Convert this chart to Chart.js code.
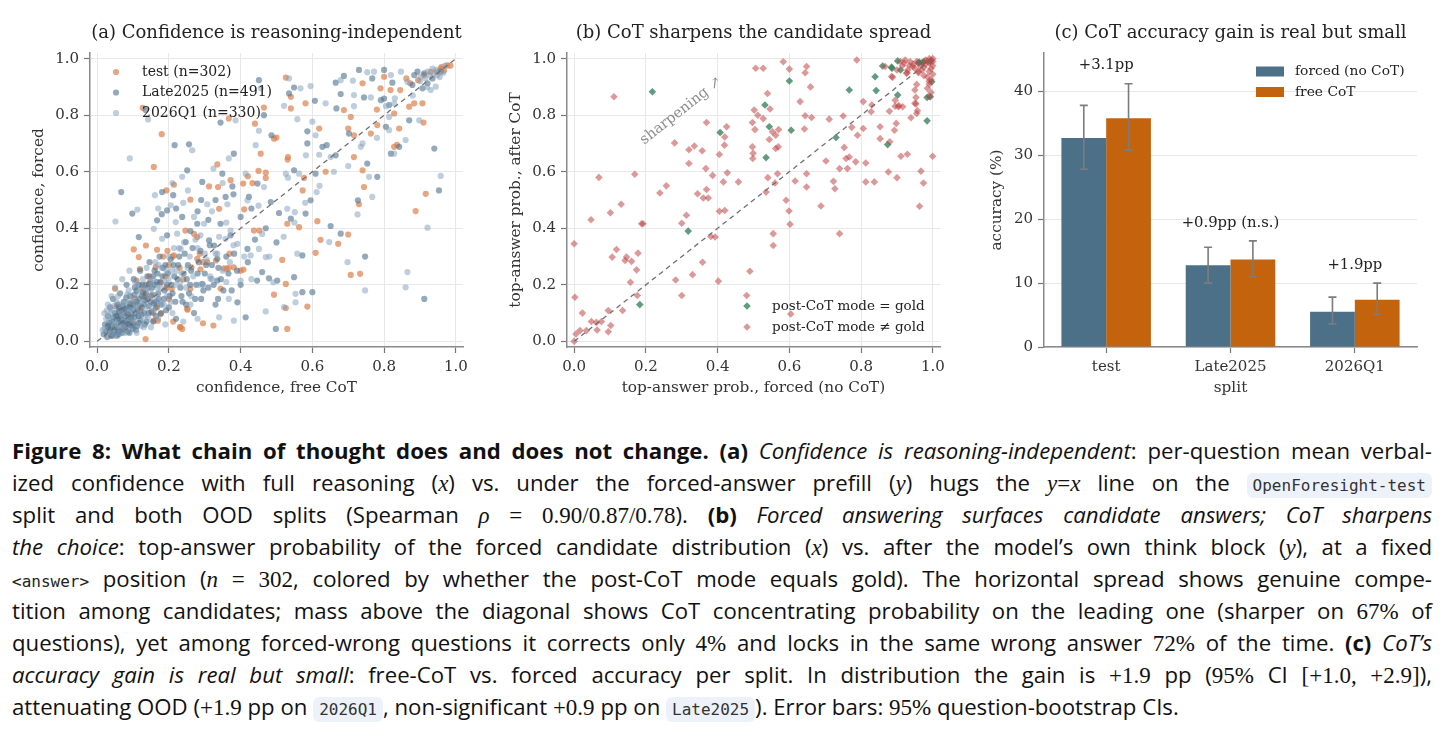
<!DOCTYPE html>
<html>
<head>
<meta charset="utf-8">
<script src="https://cdn.jsdelivr.net/npm/chart.js@4.4.1/dist/chart.umd.min.js"></script>
<style>
  body { margin: 0; background: #fff; width: 1451px; height: 747px; overflow: hidden; position: relative; }
  canvas { position: absolute; top: 0; }
  #caption { position: absolute; left: 12px; top: 435px; width: 1420px; font-family: 'Open Sans', sans-serif; font-size: 22.2px; color: #111; }
  .ln { height: 32px; line-height: 32px; white-space: nowrap; }
  .m { font-family: 'Liberation Serif', serif; font-style: italic; font-size: 23px; }
  .r { font-family: 'Liberation Serif', serif; font-size: 23px; }
  .code { font-family: 'DejaVu Sans Mono', monospace; font-size: 16px; color: #333; background: #edf2fa; border-radius: 6px; padding: 3px 6px; }
  .tt { font-family: 'DejaVu Sans Mono', monospace; font-size: 16px; color: #222; }
</style>
</head>
<body>
<canvas id="chartA" width="490" height="410" style="left:0px"></canvas>
<canvas id="chartB" width="470" height="410" style="left:490px"></canvas>
<canvas id="chartC" width="491" height="410" style="left:960px"></canvas>

<div id="caption">
<div class="ln"><span class="w"><b>Figure 8: What chain of thought does and does not change.</b> <b>(a)</b> <i>Confidence is reasoning-independent</i>: per-question mean verbal-</span></div>
<div class="ln"><span class="w">ized confidence with full reasoning (<span class="m">x</span>) vs. under the forced-answer prefill (<span class="m">y</span>) hugs the <span class="m">y</span><span class="r">=</span><span class="m">x</span> line on the <span class="code">OpenForesight-test</span></span></div>
<div class="ln"><span class="w">split and both OOD splits (Spearman <span class="m">ρ</span> <span class="r">=</span> <span class="r">0.90/0.87/0.78</span>). <b>(b)</b> <i>Forced answering surfaces candidate answers; CoT sharpens</i></span></div>
<div class="ln"><span class="w"><i>the choice</i>: top-answer probability of the forced candidate distribution (<span class="m">x</span>) vs. after the model’s own think block (<span class="m">y</span>), at a fixed</span></div>
<div class="ln"><span class="w"><span class="tt">&lt;answer&gt;</span> position (<span class="m">n</span> <span class="r">=</span> <span class="r">302</span>, colored by whether the post-CoT mode equals gold). The horizontal spread shows genuine compe-</span></div>
<div class="ln"><span class="w">tition among candidates; mass above the diagonal shows CoT concentrating probability on the leading one (sharper on <span class="r">67%</span> of</span></div>
<div class="ln"><span class="w">questions), yet among forced-wrong questions it corrects only <span class="r">4%</span> and locks in the same wrong answer <span class="r">72%</span> of the time. <b>(c)</b> <i>CoT’s</i></span></div>
<div class="ln"><span class="w"><i>accuracy gain is real but small</i>: free-CoT vs. forced accuracy per split. In distribution the gain is <span class="r">+1.9</span> pp (<span class="r">95%</span> CI <span class="r">[+1.0, +2.9]</span>),</span></div>
<div class="ln last"><span class="w">attenuating OOD (<span class="r">+1.9</span> pp on <span class="code">2026Q1</span>, non-significant <span class="r">+0.9</span> pp on <span class="code">Late2025</span>). Error bars: <span class="r">95%</span> question-bootstrap CIs.</span></div>
</div>

<script>
// ---- data: (a) confidence, free CoT (x) vs forced (y)
const testPts = [
  [0.526,0.933],[0.54,0.865],[0.54,0.824],[0.581,0.842],[0.74,0.913],[0.688,0.818],[0.707,0.794],[0.70,0.753],
  [0.716,0.729],[0.763,0.735],[0.781,0.765],[0.78,0.82],[0.828,0.806],[0.842,0.753],[0.828,0.688],[0.836,0.695],
  [0.80,0.936],[0.79,0.895],[0.818,0.889],[0.845,0.889],[0.87,0.83],[0.884,0.842],[0.907,0.842],[0.91,0.774],
  [0.916,0.522],[0.888,0.461],[0.873,0.913],[0.911,0.942],[0.93,0.953],[0.958,0.965],[0.976,0.976],[0.967,0.958],
  [0.948,0.953],[0.862,0.93],[0.895,0.924],[0.985,0.975],[0.96,0.97],[0.619,0.753],[0.50,0.721],[0.493,0.717],
  [0.456,0.664],[0.532,0.652],[0.531,0.643],[0.45,0.603],[0.47,0.597],[0.47,0.578],[0.42,0.584],[0.407,0.558],
  [0.433,0.56],[0.372,0.57],[0.335,0.626],[0.312,0.548],[0.337,0.546],[0.26,0.501],[0.214,0.554],[0.193,0.534],
  [0.158,0.617],[0.18,0.733],[0.127,0.826],[0.367,0.788],[0.465,0.827],[0.44,0.77],[0.34,0.469],[0.41,0.467],
  [0.437,0.392],[0.452,0.392],[0.53,0.416],[0.563,0.404],[0.614,0.425],[0.623,0.359],[0.609,0.313],[0.672,0.345],
  [0.70,0.378],[0.637,0.60],[0.577,0.578],[0.573,0.534],[0.74,0.605],[0.744,0.546],[0.73,0.485],[0.716,0.652],
  [0.707,0.235],[0.733,0.239],[0.586,0.123],[0.526,0.118],[0.53,0.044],[0.526,0.203],[0.516,0.288],[0.493,0.165],
  [0.381,0.262],[0.40,0.25],[0.367,0.26],[0.353,0.258],[0.344,0.187],[0.307,0.28],[0.288,0.255],[0.324,0.056],
  [0.295,0.064],[0.237,0.044],[0.232,0.05],[0.212,0.07],[0.251,0.115],[0.26,0.186],[0.263,0.262],[0.24,0.219],
  [0.214,0.304],[0.246,0.392],[0.279,0.369],[0.279,0.292],[0.295,0.28],[0.184,0.30],[0.163,0.262],[0.167,0.324],
  [0.144,0.203],[0.136,0.339],[0.102,0.325],[0.116,0.298],[0.119,0.256],[0.13,0.168],[0.095,0.132],[0.084,0.097],
  [0.05,0.186],[0.054,0.124],[0.135,0.008],[0.102,0.064],[0.084,0.062],[0.158,0.073],[0.177,0.097],[0.20,0.15],
  [0.193,0.19],[0.11,0.215],[0.167,0.12],[0.06,0.09],[0.12,0.11],[0.07,0.04],[0.15,0.16],[0.23,0.26],
  [0.19,0.23],[0.04,0.02],[0.03,0.05],[0.145,0.23],[0.27,0.38],[0.2,0.27],[0.196,0.32],[0.21,0.30],
  [0.286,0.31],[0.331,0.286],[0.361,0.257],[0.369,0.31],[0.408,0.254],[0.177,0.208],[0.208,0.186],[0.252,0.112],
  [0.231,0.05],[0.133,0.159],[0.092,0.059],[0.169,0.073],[0.07,0.11],[0.105,0.15],[0.125,0.19],[0.155,0.1]
];
const latePts = [
  [0.018,0.025],[0.022,0.06],[0.028,0.015],[0.03,0.09],[0.033,0.04],[0.036,0.12],[0.04,0.02],[0.041,0.07],
  [0.044,0.15],[0.047,0.035],[0.05,0.1],[0.052,0.055],[0.055,0.02],[0.057,0.13],[0.06,0.08],[0.062,0.04],
  [0.064,0.17],[0.067,0.11],[0.07,0.03],[0.072,0.065],[0.074,0.14],[0.077,0.09],[0.08,0.05],[0.082,0.2],
  [0.084,0.12],[0.087,0.075],[0.09,0.03],[0.092,0.16],[0.095,0.1],[0.097,0.055],[0.1,0.13],[0.102,0.22],
  [0.105,0.085],[0.108,0.04],[0.11,0.18],[0.113,0.11],[0.116,0.065],[0.118,0.15],[0.12,0.25],[0.123,0.095],
  [0.126,0.2],[0.13,0.13],[0.133,0.06],[0.136,0.17],[0.14,0.23],[0.143,0.1],[0.146,0.28],[0.15,0.14],
  [0.153,0.19],[0.156,0.07],[0.16,0.25],[0.163,0.12],[0.166,0.21],[0.17,0.17],[0.174,0.3],[0.178,0.1],
  [0.182,0.23],[0.186,0.15],[0.19,0.27],[0.195,0.2],[0.2,0.12],[0.205,0.29],[0.21,0.17],[0.215,0.23],
  [0.22,0.08],[0.226,0.27],[0.232,0.19],[0.238,0.14],[0.244,0.31],[0.25,0.22],[0.256,0.17],[0.262,0.25],
  [0.27,0.1],[0.276,0.2],[0.283,0.28],[0.29,0.15],[0.3,0.24],[0.31,0.19],[0.32,0.27],[0.33,0.13],
  [0.345,0.22],[0.36,0.3],[0.375,0.18],[0.39,0.25],[0.06,0.025],[0.045,0.085],[0.085,0.035],[0.1,0.06],
  [0.035,0.065],[0.075,0.115],[0.11,0.14],[0.065,0.09],[0.09,0.12],[0.055,0.075],[0.125,0.16],[0.095,0.08],
  [0.08,0.1],[0.14,0.15],[0.115,0.09],[0.06,0.12],[0.105,0.19],[0.135,0.2],[0.165,0.14],[0.155,0.23],
  [0.025,0.035],[0.03,0.055],[0.038,0.045],[0.043,0.025],[0.048,0.05],[0.053,0.09],[0.058,0.035],[0.061,0.105],
  [0.066,0.06],[0.069,0.075],[0.071,0.125],[0.076,0.045],[0.079,0.07],[0.081,0.155],[0.086,0.095],[0.089,0.06],
  [0.091,0.135],[0.094,0.085],[0.099,0.045],[0.101,0.115],[0.104,0.165],[0.107,0.1],[0.111,0.055],[0.114,0.13],
  [0.117,0.2],[0.121,0.075],[0.124,0.12],[0.127,0.175],[0.131,0.1],[0.134,0.145],[0.138,0.07],[0.141,0.19],
  [0.144,0.125],[0.148,0.21],[0.151,0.105],[0.154,0.165],[0.158,0.135],[0.161,0.2],[0.164,0.09],[0.168,0.24],
  [0.171,0.15],[0.176,0.21],[0.179,0.13],[0.184,0.26],[0.188,0.18],[0.192,0.11],[0.197,0.24],[0.202,0.16],
  [0.207,0.2],[0.213,0.27],[0.218,0.14],[0.224,0.22],[0.229,0.3],[0.235,0.16],[0.241,0.24],[0.248,0.13],
  [0.253,0.27],[0.259,0.2],[0.266,0.33],[0.273,0.15],[0.28,0.24],[0.288,0.32],[0.296,0.18],[0.304,0.27],
  [0.314,0.34],[0.325,0.2],[0.338,0.26],[0.352,0.18],[0.366,0.24],[0.382,0.31],[0.4,0.2],[0.42,0.28],
  [0.44,0.36],[0.47,0.4],[0.5,0.35],[0.28,0.46],[0.31,0.43],[0.33,0.5],[0.4,0.44],[0.43,0.47],
  [0.26,0.39],[0.22,0.47],[0.18,0.45],[0.29,0.5],[0.38,0.52],
  [0.451,0.924],[0.549,0.898],[0.535,0.877],[0.607,0.851],[0.665,0.915],[0.688,0.939],[0.73,0.96],[0.767,0.93],
  [0.80,0.96],[0.823,0.915],[0.744,0.863],[0.667,0.824],[0.679,0.875],[0.791,0.853],[0.814,0.836],[0.80,0.859],
  [0.805,0.759],[0.819,0.664],[0.842,0.688],[0.87,0.782],[0.94,0.682],[0.953,0.534],[0.912,0.15],[0.893,0.954],
  [0.912,0.948],[0.935,0.93],[0.921,0.913],[0.907,0.895],[0.884,0.942],[0.879,0.907],[0.958,0.954],[0.465,0.80],
  [0.344,0.774],[0.486,0.729],[0.381,0.664],[0.256,0.697],[0.216,0.694],[0.135,0.818],[0.067,0.528],[0.098,0.452],
  [0.116,0.369],[0.181,0.528],[0.212,0.517],[0.251,0.605],[0.293,0.564],[0.349,0.593],[0.358,0.511],[0.377,0.548],
  [0.423,0.511],[0.447,0.558],[0.484,0.493],[0.549,0.605],[0.609,0.593],[0.595,0.499],[0.507,0.454],[0.54,0.434],
  [0.581,0.452],[0.586,0.70],[0.628,0.688],[0.64,0.694],[0.665,0.658],[0.586,0.743],[0.702,0.735],[0.753,0.629],
  [0.781,0.582],[0.727,0.499],[0.651,0.408],[0.679,0.381],[0.747,0.30],[0.572,0.304],[0.549,0.227],[0.572,0.174],
  [0.60,0.174],[0.498,0.044],[0.502,0.215],[0.479,0.223],[0.419,0.327],[0.46,0.245],[0.446,0.215],[0.414,0.085],
  [0.391,0.138],[0.337,0.15],[0.335,0.215],[0.293,0.203],[0.335,0.292],[0.372,0.375],[0.326,0.339],[0.312,0.357],
  [0.344,0.416],[0.279,0.416],[0.247,0.351],[0.195,0.375],[0.195,0.463],[0.237,0.44],[0.167,0.428]
];
const q1Pts = [
  [0.015,0.04],[0.025,0.08],[0.038,0.03],[0.042,0.11],[0.05,0.06],[0.058,0.16],[0.063,0.03],[0.068,0.1],
  [0.073,0.05],[0.078,0.14],[0.083,0.08],[0.088,0.18],[0.093,0.045],[0.098,0.11],[0.103,0.15],[0.108,0.06],
  [0.112,0.2],[0.118,0.1],[0.124,0.14],[0.128,0.22],[0.134,0.09],[0.138,0.26],[0.145,0.16],[0.152,0.2],
  [0.158,0.11],[0.162,0.28],[0.168,0.19],[0.175,0.14],[0.18,0.26],[0.188,0.21],[0.195,0.16],[0.2,0.3],
  [0.208,0.25],[0.218,0.2],[0.228,0.33],[0.236,0.24],[0.248,0.19],[0.258,0.3],[0.268,0.23],[0.28,0.33],
  [0.295,0.2],[0.305,0.29],[0.315,0.23],[0.335,0.31],[0.35,0.25],[0.37,0.28],[0.03,0.13],[0.05,0.19],
  [0.02,0.1],[0.07,0.22],[0.09,0.25],[0.04,0.16],[0.11,0.03],[0.13,0.05],[0.15,0.05],[0.17,0.08],
  [0.19,0.06],[0.21,0.1],[0.24,0.07],[0.26,0.13],[0.28,0.08],
  [0.021,0.045],[0.027,0.11],[0.034,0.075],[0.039,0.1],[0.046,0.125],[0.049,0.02],[0.054,0.14],[0.059,0.055],
  [0.066,0.13],[0.071,0.09],[0.079,0.03],[0.084,0.165],[0.087,0.105],[0.096,0.14],[0.099,0.075],[0.106,0.21],
  [0.109,0.125],[0.119,0.17],[0.122,0.055],[0.129,0.19],[0.137,0.12],[0.142,0.085],[0.149,0.185],[0.157,0.22],
  [0.163,0.15],[0.171,0.27],[0.177,0.19],[0.186,0.13],[0.193,0.25],[0.199,0.22],[0.206,0.14],[0.214,0.33],
  [0.222,0.25],[0.231,0.21],[0.242,0.35],[0.252,0.26],[0.262,0.16],[0.274,0.36],[0.285,0.2],[0.3,0.31],
  [0.32,0.22],[0.34,0.37],[0.36,0.21],[0.38,0.34],[0.41,0.3],[0.43,0.22],[0.46,0.38],[0.48,0.3],
  [0.52,0.37],[0.55,0.42],[0.58,0.49],[0.62,0.55],[0.66,0.6],[0.7,0.62],[0.74,0.7],[0.78,0.72],
  [0.83,0.86],[0.88,0.87],[0.9,0.92],[0.92,0.9],[0.945,0.96],[0.955,0.935],[0.965,0.95],[0.97,0.975],
  [0.935,0.965],[0.915,0.93],[0.27,0.44],[0.32,0.46],[0.36,0.42],[0.45,0.48],[0.21,0.56],[0.17,0.47],
  [0.24,0.49],[0.35,0.56],
  [0.456,0.895],[0.535,0.93],[0.567,0.895],[0.521,0.833],[0.637,0.842],[0.679,0.924],[0.713,0.922],[0.753,0.952],
  [0.772,0.954],[0.819,0.942],[0.847,0.954],[0.763,0.863],[0.716,0.832],[0.716,0.871],[0.805,0.832],[0.828,0.842],
  [0.814,0.794],[0.814,0.747],[0.828,0.664],[0.86,0.712],[0.898,0.782],[0.958,0.585],[0.921,0.402],[0.865,0.245],
  [0.86,0.191],[0.902,0.936],[0.926,0.942],[0.94,0.948],[0.944,0.901],[0.93,0.889],[0.865,0.918],[0.949,0.942],
  [0.921,0.954],[0.595,0.903],[0.386,0.782],[0.451,0.745],[0.442,0.694],[0.367,0.647],[0.265,0.676],[0.142,0.785],
  [0.091,0.647],[0.051,0.424],[0.112,0.466],[0.161,0.517],[0.205,0.481],[0.237,0.582],[0.253,0.534],[0.324,0.611],
  [0.307,0.485],[0.363,0.485],[0.419,0.499],[0.414,0.593],[0.465,0.546],[0.532,0.579],[0.563,0.593],[0.612,0.528],
  [0.526,0.593],[0.53,0.469],[0.551,0.457],[0.582,0.658],[0.609,0.729],[0.619,0.66],[0.651,0.652],[0.60,0.777],
  [0.558,0.786],[0.735,0.688],[0.758,0.582],[0.767,0.511],[0.726,0.449],[0.647,0.351],[0.698,0.28],[0.747,0.18],
  [0.558,0.31],[0.553,0.168],[0.553,0.138],[0.521,0.121],[0.47,0.106],[0.491,0.209],[0.451,0.327],[0.428,0.304],
  [0.47,0.298],[0.40,0.215],[0.381,0.073],[0.367,0.15],[0.34,0.085],[0.316,0.221],[0.33,0.31],[0.372,0.392],
  [0.391,0.345],[0.358,0.363],[0.298,0.416],[0.288,0.375],[0.233,0.327],[0.223,0.381],[0.181,0.363],[0.219,0.422],
  [0.158,0.398]
];

// ---- data: (b) top-answer prob., forced (x) vs after CoT (y)
const goldPts = [
  [0.218,0.883],[0.407,0.739],[0.318,0.39],[0.183,0.13],[0.532,0.836],[0.544,0.759],[0.535,0.65],[0.60,0.921],
  [0.605,0.747],[0.767,0.889],[0.73,0.721],[0.839,0.936],[0.842,0.887],[0.86,0.974],[0.886,0.966],[0.902,0.992],
  [0.902,0.871],[0.874,0.696],[0.91,0.96],[0.96,0.985],[0.97,0.985],[0.984,0.863],[0.984,0.78],[0.997,0.918],
  [0.993,0.865],[0.993,0.99],[0.962,0.988],[0.885,0.97],[0.975,0.99]
];
const wrongPts = [
  [0.0,0.345],[0.002,0.156],[0.0,0.0],[0.005,0.026],[0.016,0.038],[0.023,0.10],[0.034,0.038],[0.048,0.07],
  [0.064,0.04],[0.062,0.067],[0.076,0.07],[0.095,0.109],[0.095,0.034],[0.102,0.056],[0.047,0.43],[0.069,0.58],
  [0.101,0.455],[0.111,0.865],[0.106,0.298],[0.118,0.325],[0.131,0.485],[0.135,0.109],[0.142,0.286],[0.146,0.298],
  [0.16,0.283],[0.157,0.209],[0.169,0.591],[0.174,0.253],[0.178,0.312],[0.176,0.162],[0.188,0.416],[0.192,0.416],
  [0.239,0.525],[0.257,0.55],[0.28,0.702],[0.283,0.217],[0.30,0.162],[0.30,0.418],[0.313,0.446],[0.32,0.678],
  [0.32,0.629],[0.33,0.236],[0.335,0.691],[0.344,0.522],[0.357,0.674],[0.36,0.507],[0.358,0.28],[0.367,0.611],
  [0.369,0.537],[0.369,0.774],[0.374,0.507],[0.381,0.371],[0.393,0.369],[0.386,0.587],[0.405,0.46],[0.405,0.661],
  [0.402,0.213],[0.419,0.694],[0.42,0.723],[0.42,0.463],[0.416,0.564],[0.425,0.759],[0.427,0.596],[0.458,0.564],
  [0.481,0.162],[0.49,0.248],[0.497,0.774],[0.497,0.688],[0.498,0.647],[0.499,0.665],[0.504,0.749],[0.502,0.818],
  [0.506,0.966],[0.512,0.80],[0.527,0.966],[0.527,0.788],[0.535,0.528],[0.54,0.579],[0.539,0.877],[0.546,0.822],
  [0.544,0.714],[0.553,0.741],[0.555,0.381],[0.555,0.339],[0.56,0.56],[0.562,0.729],[0.562,0.682],[0.567,0.593],
  [0.569,0.688],[0.57,0.749],[0.583,0.989],[0.591,0.499],[0.599,0.461],[0.602,0.414],[0.60,0.963],[0.616,0.567],
  [0.63,0.848],[0.642,0.751],[0.644,0.798],[0.644,0.95],[0.648,0.972],[0.648,0.593],[0.648,0.546],[0.659,0.90],
  [0.662,0.792],[0.688,0.479],[0.702,0.638],[0.711,0.786],[0.723,0.566],[0.727,0.54],[0.74,0.381],[0.74,0.611],
  [0.75,0.797],[0.753,0.686],[0.758,0.647],[0.762,0.611],[0.767,0.652],[0.774,0.757],[0.785,0.635],[0.788,0.995],
  [0.79,0.729],[0.806,0.753],[0.806,0.848],[0.813,0.631],[0.813,0.564],[0.828,0.812],[0.83,0.836],[0.837,0.564],
  [0.853,0.759],[0.853,0.717],[0.867,0.972],[0.876,0.599],[0.879,0.814],[0.88,0.706],[0.888,0.934],[0.893,0.747],
  [0.895,0.853],[0.895,0.832],[0.898,0.771],[0.90,0.579],[0.90,0.96],[0.904,0.83],[0.911,0.655],[0.916,0.83],
  [0.923,0.995],[0.927,0.948],[0.929,0.662],[0.937,0.989],[0.939,0.791],[0.944,0.972],[0.95,0.889],[0.95,0.842],
  [0.953,0.863],[0.955,0.806],[0.96,0.95],[0.963,0.478],[0.967,0.602],[0.974,0.56],[0.9995,0.655],[0.604,0.097],
  [0.955,0.909],[0.99,0.92],[0.99,0.866],[0.905,0.834],[0.953,0.84],[0.957,0.816],[0.928,0.95],[0.885,0.937],
  [1.0,1.0],[0.995,0.995],[0.99,0.985],[0.985,0.99],[1.0,0.975],[0.995,0.965],[0.98,0.98],[0.975,0.97],
  [0.99,0.955],[1.0,0.945],[0.985,0.935],[0.995,0.925],[0.97,0.96],[0.965,0.975],[0.955,0.99],[0.945,0.98],
  [0.99,1.0],[1.0,0.99],[0.98,0.995],[0.96,0.955],[0.99,0.91],[0.985,0.895],[0.995,0.88],[0.975,0.94],
  [0.95,0.965],[0.935,0.975],[0.92,0.985],[0.91,0.99],[0.93,0.96],[0.915,0.975]
];
const diagPts = [[0, 0], [1, 1]];

// ---- data: (c) accuracy per split (%)
const splits = ['test', 'Late2025', '2026Q1'];
const forcedAcc = [32.7, 12.8, 5.5];
const freeAcc = [35.8, 13.7, 7.4];
const forcedLo = [27.8, 10.0, 3.6];
const forcedHi = [37.8, 15.6, 7.8];
const freeLo = [30.8, 11.0, 5.1];
const freeHi = [41.2, 16.6, 10.0];
const gainLabels = ['+3.1pp', '+0.9pp (n.s.)', '+1.9pp'];

// ---- ticks
const unitTicks = [0, 0.2, 0.4, 0.6, 0.8, 1.0];
const unitTickLabels = ['0.0', '0.2', '0.4', '0.6', '0.8', '1.0'];
const accTicks = [0, 10, 20, 30, 40];
const accTickLabels = ['0', '10', '20', '30', '40'];

const SERIF = "'DejaVu Serif', serif";
const tickFont = { family: SERIF, size: 15 };
const axisFont = { family: SERIF, size: 15.3, lineHeight: 1 };
const SPINE = '#8a8a8a';
const GRID = '#e8e8e8';

function xy(arr) { return arr.map(p => ({ x: p[0], y: p[1] })); }

function axis(opts) {
  // opts: title, min, max, ticks, labels, size, horizontal, titlePad
  return {
    type: 'linear', min: opts.min, max: opts.max,
    afterBuildTicks: s => { s.ticks = opts.ticks.map(v => ({ value: v })); },
    afterFit: s => { if (opts.horizontal) s.height = opts.size; else s.width = opts.size; },
    ticks: {
      font: tickFont, color: '#333', padding: 5, autoSkip: false, maxRotation: 0,
      callback: v => opts.labels[opts.ticks.indexOf(v)]
    },
    grid: { color: GRID, lineWidth: 1, tickColor: '#777', tickLength: 6, tickWidth: 1.2 },
    border: { display: true, color: SPINE, width: 1.5 },
    title: {
      display: true, text: opts.title, font: axisFont, color: '#333',
      padding: opts.horizontal ? { top: 0, bottom: opts.titlePad } : { top: opts.titlePad, bottom: 0 }
    }
  };
}

// titles, legends and free text inside each panel
const decorPlugin = {
  id: 'decor',
  afterDraw(chart, args, o) {
    const ctx = chart.ctx, a = chart.chartArea;
    ctx.save();
    ctx.fillStyle = '#222';
    ctx.font = '18px ' + SERIF;
    ctx.textAlign = 'center';
    ctx.textBaseline = 'middle';
    ctx.fillText(o.title, (a.left + a.right) / 2, a.top - 20);

    if (o.legend) {
      const L = o.legend;
      ctx.font = L.size + 'px ' + SERIF;
      ctx.textAlign = 'left';
      const items = chart.data.datasets.filter(d => d.label);
      items.forEach((d, i) => {
        const y = (L.fromBottom ? a.bottom - L.y : a.top + L.y) + i * L.dy;
        ctx.fillStyle = d.backgroundColor;
        if (L.box) {
          ctx.fillRect(a.left + L.x - 14, y - 5, 28, 10);
        } else {
          Chart.helpers.drawPoint(ctx, { pointStyle: d.pointStyle || 'circle', radius: d.pointRadius, rotation: 0, borderWidth: 0 }, a.left + L.x, y);
        }
        ctx.fillStyle = '#222';
        ctx.fillText(d.label, a.left + L.x + L.textDx, y);
      });
    }

    if (o.note) {
      const xs = chart.scales.x, ys = chart.scales.y;
      const ang = Math.atan2(ys.getPixelForValue(1) - ys.getPixelForValue(0), xs.getPixelForValue(1) - xs.getPixelForValue(0));
      ctx.translate(xs.getPixelForValue(o.note.x), ys.getPixelForValue(o.note.y));
      ctx.rotate(ang);
      ctx.fillStyle = '#8c8c8c';
      ctx.font = '14.5px ' + SERIF;
      ctx.textAlign = 'center';
      ctx.fillText(o.note.text, 0, 0);
    }
    ctx.restore();
  }
};

// ---- (a)
new Chart(document.getElementById('chartA'), {
  type: 'scatter',
  data: {
    datasets: [
      { data: xy(diagPts), showLine: true, borderColor: '#6f6f6f', borderDash: [5, 4], borderWidth: 1.3, pointRadius: 0, order: 0 },
      { label: 'test (n=302)', data: xy(testPts), backgroundColor: 'rgba(221,132,82,0.72)', pointRadius: 3.1, borderWidth: 0, order: 3 },
      { label: 'Late2025 (n=491)', data: xy(latePts), backgroundColor: 'rgba(76,114,142,0.6)', pointRadius: 3.1, borderWidth: 0, order: 2 },
      { label: '2026Q1 (n=330)', data: xy(q1Pts), backgroundColor: 'rgba(128,158,186,0.5)', pointRadius: 3.1, borderWidth: 0, order: 1 }
    ]
  },
  options: {
    responsive: false, animation: false, events: [],
    layout: { padding: { left: 0, top: 53, right: 27, bottom: 0 } },
    scales: {
      x: axis({ title: 'confidence, free CoT', min: -0.02, max: 1.02, ticks: unitTicks, labels: unitTickLabels, size: 63, horizontal: true, titlePad: 14.5 }),
      y: axis({ title: 'confidence, forced', min: -0.02, max: 1.02, ticks: unitTicks, labels: unitTickLabels, size: 90, horizontal: false, titlePad: 31.5 })
    },
    plugins: {
      legend: { display: false }, tooltip: { enabled: false },
      decor: { title: '(a) Confidence is reasoning-independent', legend: { x: 26, y: 19, dy: 20.5, textDx: 26, size: 14 } }
    }
  },
  plugins: [decorPlugin]
});

// ---- (b)
new Chart(document.getElementById('chartB'), {
  type: 'scatter',
  data: {
    datasets: [
      { data: xy(diagPts), showLine: true, borderColor: '#6f6f6f', borderDash: [5, 4], borderWidth: 1.3, pointRadius: 0, order: 0 },
      { label: 'post-CoT mode = gold', data: xy(goldPts), backgroundColor: 'rgba(60,130,95,0.8)', pointStyle: 'rectRot', pointRadius: 3.8, borderWidth: 0, order: 2 },
      { label: 'post-CoT mode ≠ gold', data: xy(wrongPts), backgroundColor: 'rgba(192,70,70,0.55)', pointStyle: 'rectRot', pointRadius: 3.8, borderWidth: 0, order: 1 }
    ]
  },
  options: {
    responsive: false, animation: false, events: [],
    layout: { padding: { left: 0, top: 53, right: 20, bottom: 0 } },
    scales: {
      x: axis({ title: 'top-answer prob., forced (no CoT)', min: -0.02, max: 1.02, ticks: unitTicks, labels: unitTickLabels, size: 63, horizontal: true, titlePad: 14.5 }),
      y: axis({ title: 'top-answer prob., after CoT', min: -0.02, max: 1.02, ticks: unitTicks, labels: unitTickLabels, size: 77, horizontal: false, titlePad: 18.5 })
    },
    plugins: {
      legend: { display: false }, tooltip: { enabled: false },
      decor: {
        title: '(b) CoT sharpens the candidate spread',
        legend: { x: 180, y: 41, dy: 21, textDx: 25, fromBottom: true, size: 13.5 },
        note: { text: 'sharpening ↗', x: 0.298, y: 0.815 }
      }
    }
  },
  plugins: [decorPlugin]
});

// ---- (c)
const errorBarPlugin = {
  id: 'errbars',
  afterDatasetsDraw(chart) {
    const ctx = chart.ctx, ys = chart.scales.y, xs = chart.scales.x;
    const lows = [forcedLo, freeLo], highs = [forcedHi, freeHi];
    ctx.save();
    ctx.strokeStyle = '#7c7c7c';
    ctx.lineWidth = 1.6;
    [0, 1].forEach(i => {
      chart.getDatasetMeta(i).data.forEach((bar, j) => {
        const y0 = ys.getPixelForValue(lows[i][j]), y1 = ys.getPixelForValue(highs[i][j]);
        ctx.beginPath();
        ctx.moveTo(bar.x, y0); ctx.lineTo(bar.x, y1);
        ctx.moveTo(bar.x - 4, y0); ctx.lineTo(bar.x + 4, y0);
        ctx.moveTo(bar.x - 4, y1); ctx.lineTo(bar.x + 4, y1);
        ctx.stroke();
      });
    });
    // gain labels just above the taller whisker
    ctx.fillStyle = '#222';
    ctx.font = '14.8px ' + SERIF;
    ctx.textAlign = 'center';
    ctx.textBaseline = 'middle';
    splits.forEach((s, j) => {
      const top = Math.max(forcedHi[j], freeHi[j]);
      ctx.fillText(gainLabels[j], xs.getPixelForValue(j), ys.getPixelForValue(top + 2.85));
    });
    ctx.restore();
  }
};

const accAxis = axis({ title: 'accuracy (%)', min: 0, max: 46, ticks: accTicks, labels: accTickLabels, size: 84, horizontal: false, titlePad: 29.5 });
new Chart(document.getElementById('chartC'), {
  type: 'bar',
  data: {
    labels: splits,
    datasets: [
      { label: 'forced (no CoT)', data: forcedAcc, backgroundColor: '#4d7089', borderWidth: 0 },
      { label: 'free CoT', data: freeAcc, backgroundColor: '#c4630e', borderWidth: 0 }
    ]
  },
  options: {
    responsive: false, animation: false, events: [],
    layout: { padding: { left: 0, top: 53, right: 34, bottom: 0 } },
    datasets: { bar: { categoryPercentage: 0.72, barPercentage: 1.0 } },
    scales: {
      x: {
        type: 'category',
        afterFit: s => { s.height = 63; },
        ticks: { font: tickFont, color: '#333', padding: 5, maxRotation: 0 },
        grid: { display: true, drawOnChartArea: false, offset: false, tickColor: '#777', tickLength: 6, tickWidth: 1.2 },
        border: { display: true, color: SPINE, width: 1.5 },
        title: { display: true, text: 'split', font: axisFont, color: '#333', padding: { top: 0, bottom: 14.5 } }
      },
      y: accAxis
    },
    plugins: {
      legend: { display: false }, tooltip: { enabled: false },
      decor: { title: '(c) CoT accuracy gain is real but small', legend: { x: 226, y: 18.5, dy: 20.5, textDx: 25, box: true, size: 13.8 } }
    }
  },
  plugins: [decorPlugin, errorBarPlugin]
});

// ---- caption: justify each line to the full column width
function fitCaption() {
  const W = 1420;
  document.querySelectorAll('#caption .ln').forEach(ln => {
    if (ln.classList.contains('last')) return;
    const inner = ln.querySelector('.w');
    ln.style.wordSpacing = '0px';
    const natural = inner.getBoundingClientRect().width;
    const spaces = (inner.textContent.match(/ /g) || []).length;
    if (spaces) ln.style.wordSpacing = ((W - natural) / spaces) + 'px';
  });
}
fitCaption();
if (document.fonts) document.fonts.ready.then(fitCaption);
</script>
</body>
</html>
